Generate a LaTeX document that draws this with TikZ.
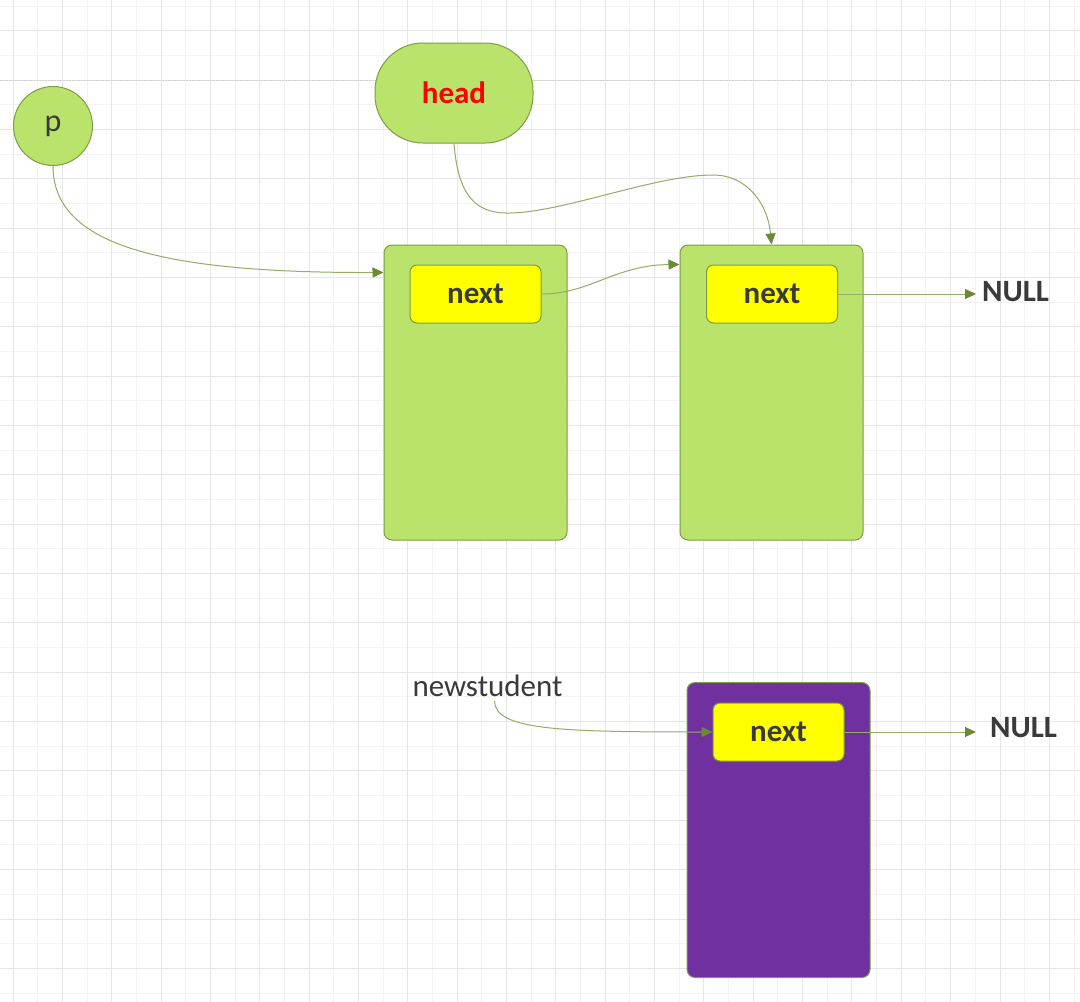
\documentclass[tikz,border=0pt]{standalone}
\usepackage{fontspec}
\setmainfont{Carlito}
\usetikzlibrary{arrows.meta,calc,positioning}
\definecolor{nodegreen}{HTML}{B9E36B}
\definecolor{edgegreen}{HTML}{7E9D45}
\definecolor{linkline}{HTML}{93AC66}
\definecolor{linktip}{HTML}{6B8A35}
\definecolor{boxpurple}{HTML}{7030A0}
\definecolor{boxyellow}{HTML}{FFFF00}
\definecolor{textgray}{HTML}{3A3A3A}
\definecolor{gridminor}{HTML}{F3F3F3}
\definecolor{gridmajor}{HTML}{E6E6E6}
\definecolor{pageline}{HTML}{D2D2D2}
\tikzset{
  cell/.style={draw=edgegreen, line width=1pt, rounded corners=8pt,
    minimum width=183pt, minimum height=295pt, inner sep=0pt},
  ptr/.style={draw=edgegreen, fill=boxyellow, line width=1pt, rounded corners=7pt,
    minimum width=131pt, minimum height=58pt, inner sep=0pt,
    font=\fontsize{31}{37}\selectfont\bfseries, text=textgray},
  nulltext/.style={anchor=west, inner sep=3pt, text=textgray,
    font=\fontsize{31}{37}\selectfont\bfseries},
  link/.style={draw=linkline, line width=1pt,
    -{Triangle[length=11pt,width=10pt,color=linktip]}},
}
\begin{document}
\begin{tikzpicture}[x=1pt,y=-1pt]
  \useasboundingbox[fill=white] (0,0) rectangle (1080,1002);
  % background grid
  \foreach \i in {0,...,21}
    \draw[gridminor, line width=1pt] ({37.675+49.35*\i},0) -- ++(0,1002);
  \foreach \i in {0,...,20}
    \draw[gridminor, line width=1pt] (0,{6.03+49.35*\i}) -- ++(1080,0);
  \foreach \i in {0,...,21}
    \draw[gridmajor, line width=1pt] ({13+49.35*\i},0) -- ++(0,1002);
  \foreach \i in {0,...,19}
    \draw[gridmajor, line width=1pt] (0,{30.7+49.35*\i}) -- ++(1080,0);
  \draw[pageline, line width=1pt, dash pattern=on 2pt off 1pt] (0,80) -- (1080,80);

  % pointers
  \node[circle, draw=edgegreen, fill=nodegreen, line width=1pt, minimum size=79pt,
    inner sep=0pt, text=textgray, font=\fontsize{32}{38}\selectfont]
    (p) at (53,126) {\raisebox{-4pt}{p}};
  \node[draw=edgegreen, fill=nodegreen, line width=1pt, rounded corners=48pt,
    minimum width=158pt, minimum height=100pt, text=red,
    font=\fontsize{31}{37}\selectfont\bfseries] (head) at (454,93) {head};

  % list nodes
  \node[cell, fill=nodegreen] (n1) at (475.5,392.5) {};
  \node[cell, fill=nodegreen] (n2) at (771.5,392.5) {};
  \node[cell, fill=boxpurple] (n3) at (778.5,830) {};
  \node[ptr] (next1) at (475.5,294) {\raisebox{-2pt}{next}};
  \node[ptr] (next2) at (772,294) {\raisebox{-2pt}{next}};
  \node[ptr] (next3) at (778.5,732) {\raisebox{-2pt}{next}};
  \node[nulltext] (null1) at (979,292) {NULL};
  \node[nulltext] (null2) at (987,728) {NULL};
  \node[inner sep=4pt, text=textgray, font=\fontsize{31}{37}\selectfont]
    (ns) at (487.5,686) {newstudent};

  % links
  \draw[link] (p.south) .. controls (53,245) and (160,273) .. ($(n1.north west)+(0,28)$);
  \draw[link] (head.south) .. controls (458,195) and (475,214) .. (510,213)
    .. controls (565,212) and (655,175) .. (713,175)
    .. controls (748,175) and (768,205) .. (n2.north);
  \draw[link] (next1.east) .. controls (590,294) and (615,265) .. ($(n2.north west)+(0,20)$);
  \draw[link, shorten >=3pt] (next2.east) -- (next2.east -| null1.west);
  \draw[link] ([xshift=7pt]ns.south) .. controls (495,730) and (560,732) .. (next3.west);
  \draw[link, shorten >=11pt] (next3.east) -- (next3.east -| null2.west);
\end{tikzpicture}
\end{document}
